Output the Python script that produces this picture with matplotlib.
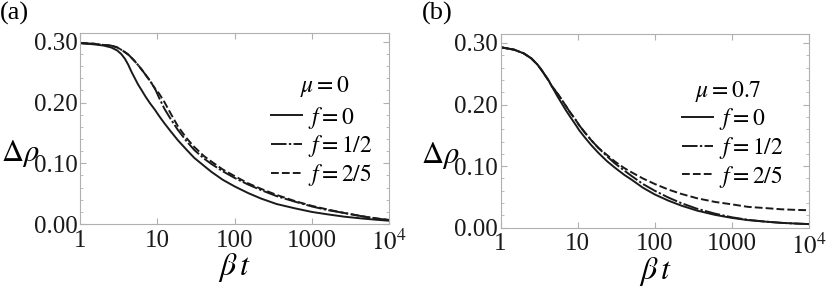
import numpy as np
import matplotlib
matplotlib.use("Agg")
import matplotlib.pyplot as plt
from matplotlib.ticker import FixedLocator, FixedFormatter, MultipleLocator, LogLocator, NullFormatter

plt.rcParams['font.family'] = ['Liberation Serif', 'DejaVu Serif']
plt.rcParams['mathtext.fontset'] = 'stix'

# common time grid (beta*t)
bt = [1, 1.5, 2, 2.5, 3, 3.4, 3.8, 4.2, 4.6, 5.1, 5.6, 6.2, 7, 8, 9.3, 10.5, 12.3, 15, 18.4,
      24, 30, 40, 50, 70, 100, 150, 220, 350, 600, 1000, 1600, 2700, 4400, 7000, 10000]

# panel (a): mu = 0
a_f0 = [.298, .296, .294, .291, .286, .280, .272, .262, .251, .240, .230, .221, .210, .199, .188,
        .178, .166, .152, .138, .122, .109, .096, .086, .073, .062, .051, .042, .033, .026, .020,
        .016, .012, .0093, .007, .0055]
a_f12 = [.298, .297, .295, .294, .291, .287, .283, .279, .274, .268, .262, .255, .246, .236, .223,
         .208, .190, .172, .155, .136, .122, .108, .099, .087, .076, .065, .056, .046, .037, .029,
         .023, .018, .013, .009, .0066]
a_f25 = [.298, .297, .295, .294, .291, .287, .283, .279, .274, .268, .262, .255, .246, .236, .223,
         .215, .201, .181, .161, .141, .127, .112, .103, .090, .079, .067, .058, .048, .038, .030,
         .024, .018, .013, .0092, .0068]

# panel (b): mu = 0.7
b_f0 = [.293, .289, .283, .275, .265, .256, .247, .239, .230, .220, .211, .202, .191, .180, .168,
        .158, .147, .134, .122, .108, .098, .086, .078, .065, .054, .044, .036, .028, .021, .016,
        .0125, .010, .008, .0068, .006]
b_f12 = [.293, .289, .283, .275, .265, .256, .247, .239, .230, .223, .216, .208, .198, .187, .176,
         .166, .155, .142, .130, .116, .105, .093, .084, .071, .060, .049, .040, .031, .023, .017,
         .013, .010, .008, .0068, .006]
b_f25 = [.293, .289, .283, .275, .265, .256, .247, .239, .230, .223, .216, .208, .198, .187, .176,
         .166, .155, .142, .130, .118, .108, .097, .090, .080, .071, .062, .055, .048, .042, .038,
         .034, .032, .030, .029, .0285]

labels = ['$f = 0$', '$f = 1/2$', '$f = 2/5$']
xtick_vals = [1, 10, 100, 1000, 10000]
xtick_labels = ['1', '10', '100', '1000', '$10^4$']
ytick_vals = [0.0, 0.1, 0.2, 0.3]
ytick_labels = ['0.00', '0.10', '0.20', '0.30']

fig = plt.figure(figsize=(8.31, 2.88), dpi=100)
ax_a = fig.add_axes([0.0966, 0.222, 0.3715, 0.662])
ax_b = fig.add_axes([0.6023, 0.209, 0.3716, 0.672])

lc = '#1a1a1a'
styles = [dict(linestyle='-'),
          dict(linestyle=(0, (8.0, 1.2, 1.2, 1.2))),
          dict(linestyle=(0, (4.0, 1.6)))]

panels = [
    (ax_a, [a_f0, a_f12, a_f25], '$\\mu = 0$', (0.793, 0.724), (0.618, 0.627), '(a)', 0.0),
    (ax_b, [b_f0, b_f12, b_f25], '$\\mu = 0.7$', (0.738, 0.702), (0.588, 0.629), '(b)', 0.508),
]

for ax, series, mu, mu_xy, leg_xy, tag, tag_x in panels:
    for ys, st, lab in zip(series, styles, labels):
        ax.plot(bt, ys, color=lc, lw=1.4, label=lab, **st)
    ax.set_xscale('log')
    ax.set_xlim(1, 1e4)
    ax.set_ylim(0, 0.314)
    ax.xaxis.set_major_locator(FixedLocator(xtick_vals))
    ax.xaxis.set_major_formatter(FixedFormatter(xtick_labels))
    ax.xaxis.set_minor_locator(LogLocator(base=10, subs=np.arange(2, 10)))
    ax.xaxis.set_minor_formatter(NullFormatter())
    ax.yaxis.set_major_locator(FixedLocator(ytick_vals))
    ax.yaxis.set_major_formatter(FixedFormatter(ytick_labels))
    ax.yaxis.set_minor_locator(MultipleLocator(0.02))
    for sp in ax.spines.values():
        sp.set_color('#b0b0b0')
        sp.set_linewidth(0.8)
    ax.tick_params(which='both', direction='in', top=True, right=True, color='#b0b0b0',
                   labelsize=18, labelcolor='#1a1a1a')
    ax.tick_params(which='major', length=4, width=0.8)
    ax.tick_params(which='minor', length=2, width=0.6)
    ax.tick_params(axis='x', pad=4)
    ax.tick_params(axis='y', pad=2)
    ax.set_xlabel('$\\beta\\, t$', fontsize=23, labelpad=-3)
    # y label drawn horizontally to the left of the tick labels
    ax.text(-0.195, 0.372, '$\\Delta\\rho$', transform=ax.transAxes, fontsize=22,
            ha='center', va='center')
    ax.text(mu_xy[0], mu_xy[1], mu, transform=ax.transAxes, fontsize=17,
            ha='center', va='center')
    ax.legend(loc='upper left', bbox_to_anchor=leg_xy, frameon=False,
              fontsize=17, handlelength=1.3, handletextpad=0.25,
              labelspacing=0.12, borderpad=0, borderaxespad=0)
    fig.text(tag_x, 0.995, tag, fontsize=19, ha='left', va='top')

fig.savefig('out.png', dpi=100)
